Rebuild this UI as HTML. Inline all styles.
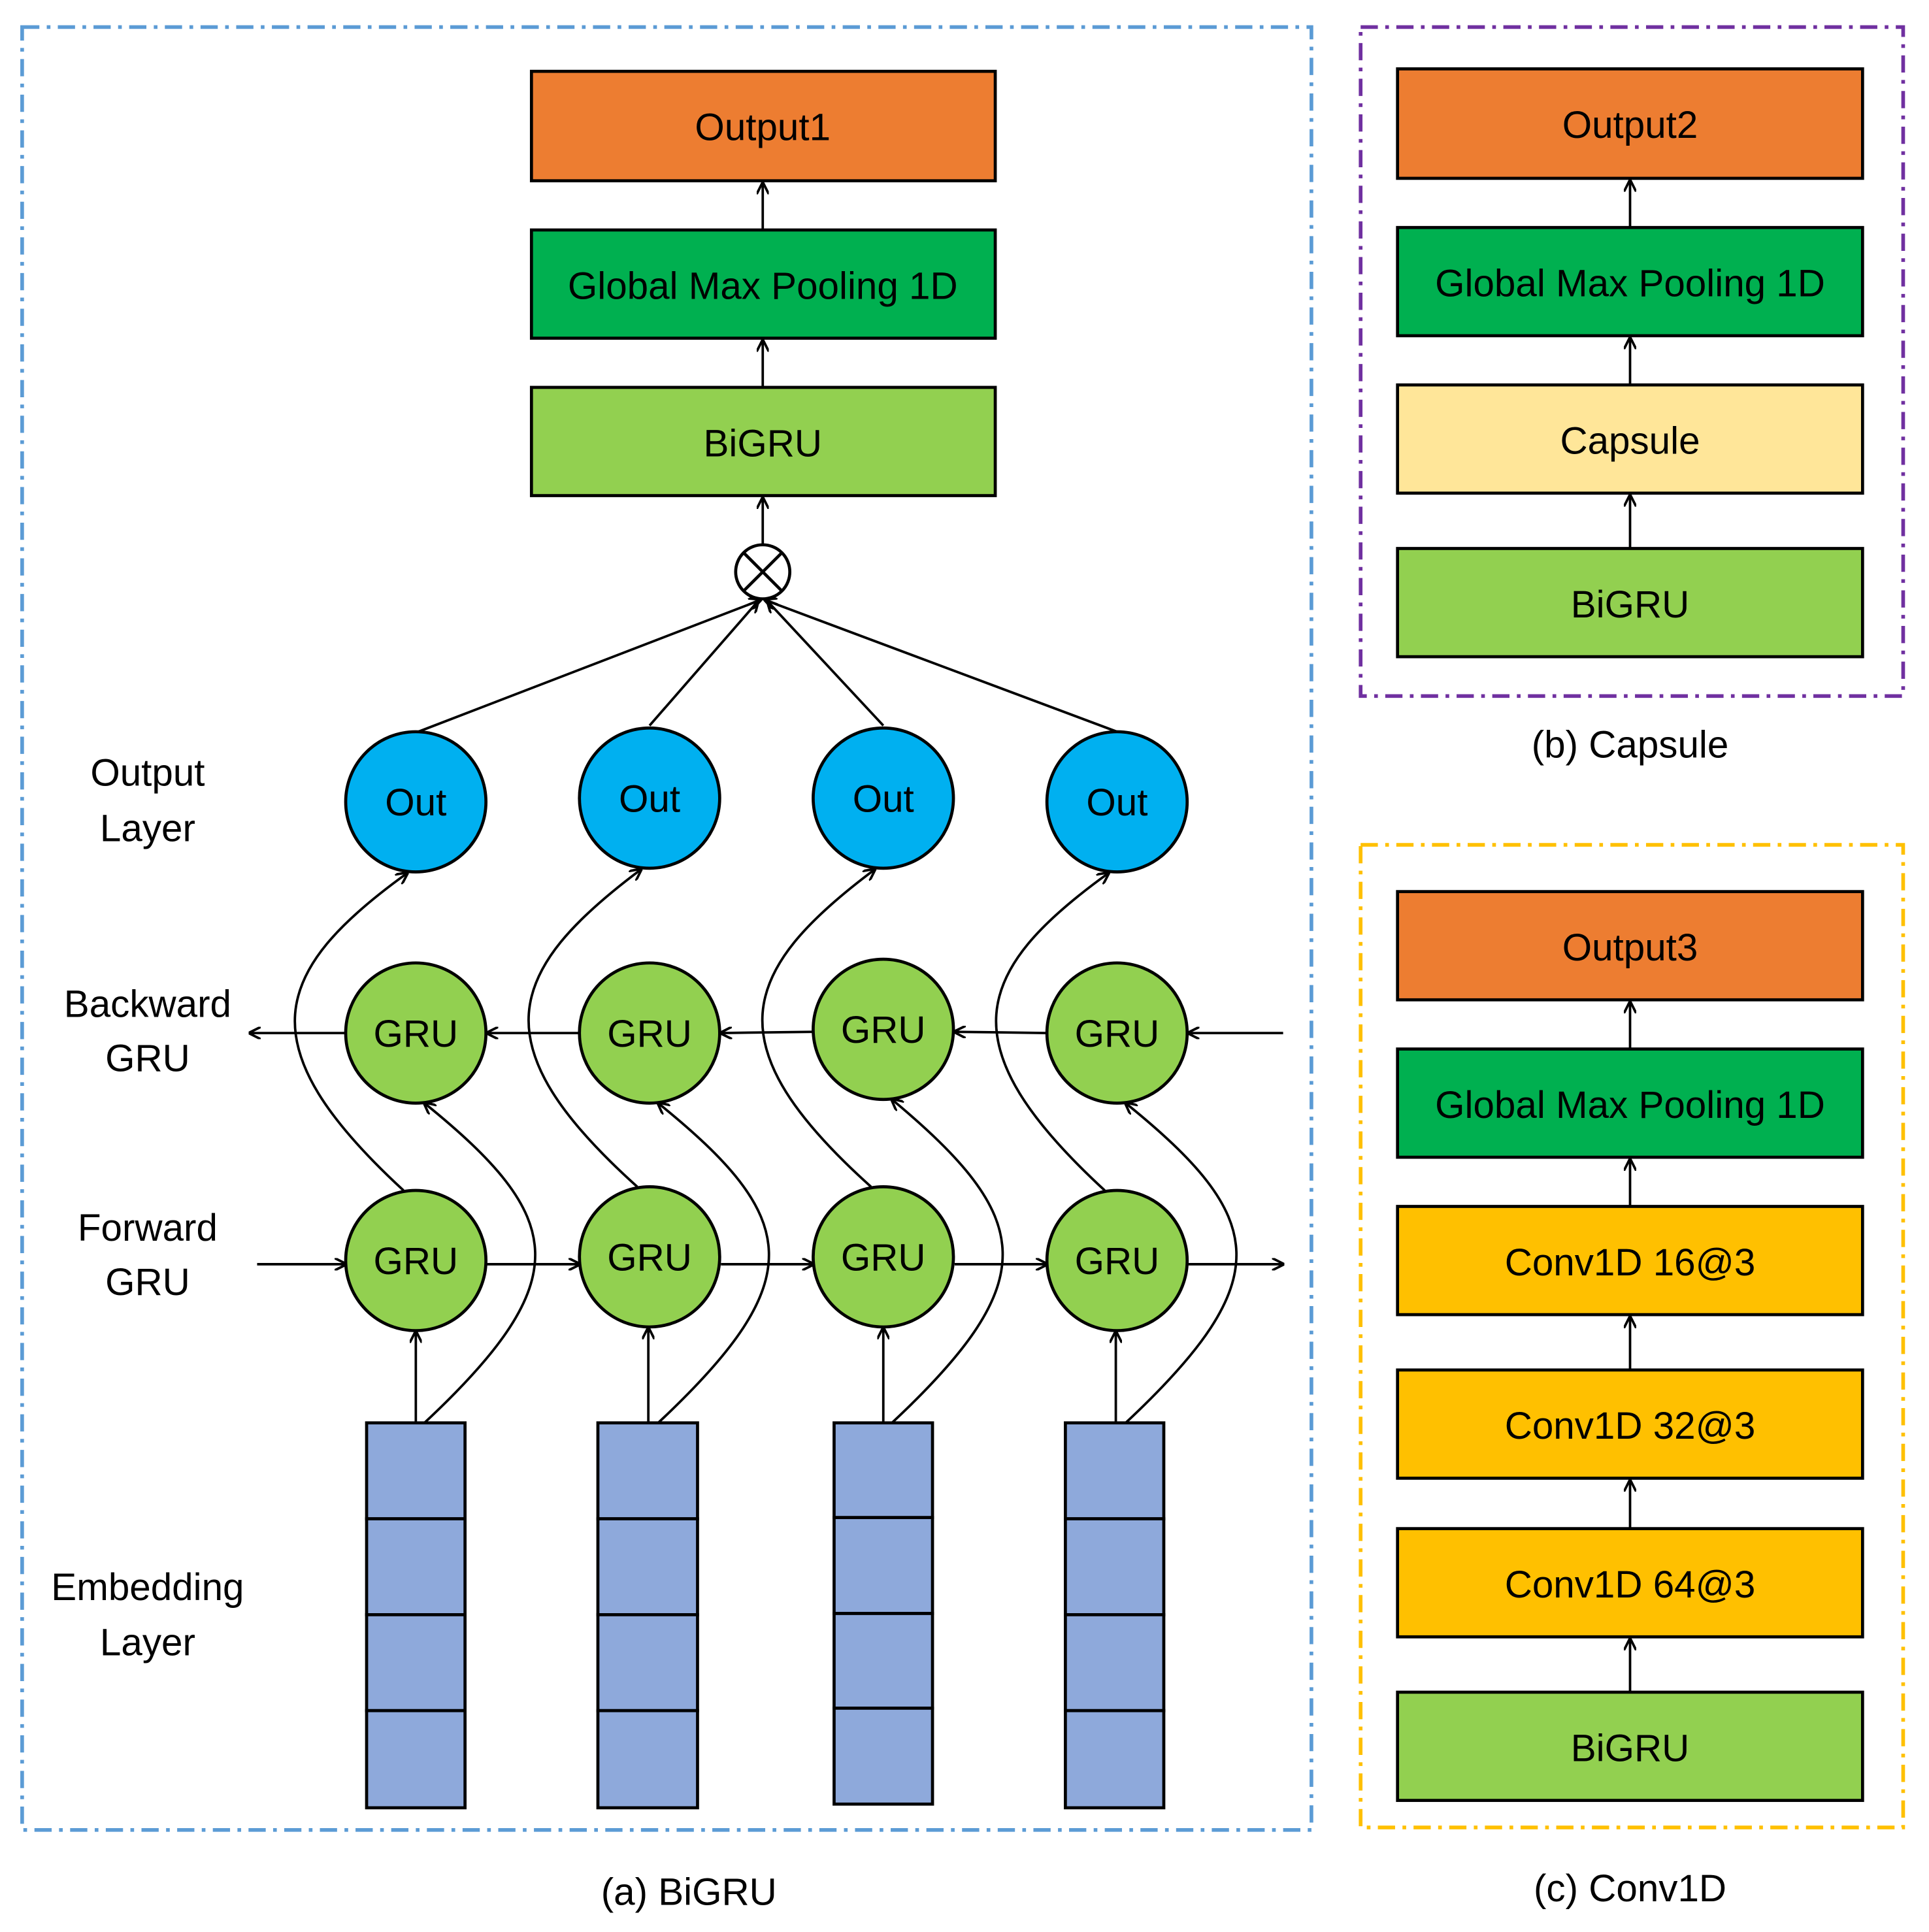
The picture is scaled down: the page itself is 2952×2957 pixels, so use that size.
<!DOCTYPE html>
<html><head><meta charset="utf-8"><style>html,body{margin:0;padding:0;background:#fff}svg{display:block}</style></head>
<body>
<svg width="2952" height="2957" viewBox="0 0 1568 1571" preserveAspectRatio="none" xmlns="http://www.w3.org/2000/svg" font-family="Liberation Sans, sans-serif">
<defs>
<marker id="a" markerWidth="10" markerHeight="10" refX="9" refY="5" orient="auto" markerUnits="userSpaceOnUse"><path d="M0,0 L10,5 L0,10" fill="none" stroke="#000" stroke-width="2"/></marker>
</defs>
<g fill="none" stroke-width="3" stroke-dasharray="14,6,3,6">
<rect x="18" y="22" width="1048" height="1466" stroke="#5B9BD5"/>
<rect x="1106" y="22" width="441" height="544" stroke="#7030A0"/>
<rect x="1106" y="687" width="441" height="799" stroke="#FFC000"/>
</g>
<g stroke="#000" stroke-width="2.5" font-size="31" text-anchor="middle">
<rect x="432" y="58" width="377" height="89" fill="#ED7D31"/>
<rect x="432" y="187" width="377" height="88" fill="#00B050"/>
<rect x="432" y="315" width="377" height="88" fill="#92D050"/>
<rect x="1136" y="56" width="378" height="89" fill="#ED7D31"/>
<rect x="1136" y="185" width="378" height="88" fill="#00B050"/>
<rect x="1136" y="313" width="378" height="88" fill="#FFE699"/>
<rect x="1136" y="446" width="378" height="88" fill="#92D050"/>
<rect x="1136" y="725" width="378" height="88" fill="#ED7D31"/>
<rect x="1136" y="853" width="378" height="88" fill="#00B050"/>
<rect x="1136" y="981" width="378" height="88" fill="#FFC000"/>
<rect x="1136" y="1114" width="378" height="88" fill="#FFC000"/>
<rect x="1136" y="1243" width="378" height="88" fill="#FFC000"/>
<rect x="1136" y="1376" width="378" height="88" fill="#92D050"/>
</g>
<g stroke="#000" stroke-width="2" marker-end="url(#a)">
<line x1="620" y1="187" x2="620" y2="149"/><line x1="620" y1="315" x2="620" y2="277"/><line x1="620" y1="443" x2="620" y2="405"/>
<line x1="1325" y1="185" x2="1325" y2="147"/><line x1="1325" y1="313" x2="1325" y2="275"/><line x1="1325" y1="446" x2="1325" y2="403"/>
<line x1="1325" y1="853" x2="1325" y2="815"/><line x1="1325" y1="981" x2="1325" y2="943"/><line x1="1325" y1="1114" x2="1325" y2="1071"/><line x1="1325" y1="1243" x2="1325" y2="1204"/><line x1="1325" y1="1376" x2="1325" y2="1333"/>
<line x1="340" y1="595" x2="618" y2="488"/><line x1="528" y1="590" x2="616" y2="489"/><line x1="718" y1="590" x2="624" y2="489"/><line x1="908" y1="595" x2="622" y2="488"/>
<line x1="281" y1="840" x2="203" y2="840"/><line x1="471" y1="840" x2="396" y2="840"/><line x1="661" y1="839" x2="586" y2="840"/><line x1="851" y1="840" x2="776" y2="839"/><line x1="1043" y1="840" x2="966" y2="840"/>
<line x1="209" y1="1028" x2="281" y2="1028"/><line x1="396" y1="1028" x2="471" y2="1028"/><line x1="586" y1="1028" x2="661" y2="1028"/><line x1="776" y1="1028" x2="851" y2="1028"/><line x1="966" y1="1028" x2="1043" y2="1028"/>
<line x1="338" y1="1157" x2="338" y2="1083"/><line x1="527" y1="1157" x2="527" y2="1080"/><line x1="718" y1="1157" x2="718" y2="1080"/><line x1="907" y1="1157" x2="907" y2="1083"/>
</g>
<g fill="none" stroke="#000" stroke-width="2" marker-end="url(#a)">
<path d="M328,968 C200,850 220,790 331,710"/>
<path d="M518,965 C390,850 410,790 521,707"/>
<path d="M708,965 C580,850 600,790 711,707"/>
<path d="M898,968 C770,850 790,790 901,710"/>
<path d="M345,1157 C470,1040 460,990 345,897"/>
<path d="M535,1157 C660,1040 650,990 535,897"/>
<path d="M725,1157 C850,1040 840,990 725,894"/>
<path d="M915,1157 C1040,1040 1030,990 915,897"/>
</g>
<g stroke="#000" stroke-width="2.5">
<circle cx="338" cy="652" r="57" fill="#00B0F0"/><circle cx="528" cy="649" r="57" fill="#00B0F0"/><circle cx="718" cy="649" r="57" fill="#00B0F0"/><circle cx="908" cy="652" r="57" fill="#00B0F0"/>
<circle cx="338" cy="840" r="57" fill="#92D050"/><circle cx="528" cy="840" r="57" fill="#92D050"/><circle cx="718" cy="837" r="57" fill="#92D050"/><circle cx="908" cy="840" r="57" fill="#92D050"/>
<circle cx="338" cy="1025" r="57" fill="#92D050"/><circle cx="528" cy="1022" r="57" fill="#92D050"/><circle cx="718" cy="1022" r="57" fill="#92D050"/><circle cx="908" cy="1025" r="57" fill="#92D050"/>
<circle cx="620" cy="465" r="22" fill="#fff"/>
<line x1="604" y1="449" x2="636" y2="481"/><line x1="636" y1="449" x2="604" y2="481"/>
<g fill="#8EA9DB">
<rect x="298" y="1157" width="80" height="78"/><rect x="298" y="1235" width="80" height="78"/><rect x="298" y="1313" width="80" height="78"/><rect x="298" y="1391" width="80" height="79"/>
<rect x="486" y="1157" width="81" height="78"/><rect x="486" y="1235" width="81" height="78"/><rect x="486" y="1313" width="81" height="78"/><rect x="486" y="1391" width="81" height="79"/>
<rect x="678" y="1157" width="80" height="77"/><rect x="678" y="1234" width="80" height="78"/><rect x="678" y="1312" width="80" height="77"/><rect x="678" y="1389" width="80" height="78"/>
<rect x="866" y="1157" width="80" height="78"/><rect x="866" y="1235" width="80" height="78"/><rect x="866" y="1313" width="80" height="78"/><rect x="866" y="1391" width="80" height="79"/>
</g>
</g>
<g font-size="31" text-anchor="middle" fill="#000">
<text x="620" y="114">Output1</text><text x="620" y="243">Global Max Pooling 1D</text><text x="620" y="371">BiGRU</text>
<text x="1325" y="112">Output2</text><text x="1325" y="241">Global Max Pooling 1D</text><text x="1325" y="369">Capsule</text><text x="1325" y="502">BiGRU</text>
<text x="1325" y="781">Output3</text><text x="1325" y="909">Global Max Pooling 1D</text><text x="1325" y="1037">Conv1D 16@3</text><text x="1325" y="1170">Conv1D 32@3</text><text x="1325" y="1299">Conv1D 64@3</text><text x="1325" y="1432">BiGRU</text>
<text x="338" y="663">Out</text><text x="528" y="660">Out</text><text x="718" y="660">Out</text><text x="908" y="663">Out</text>
<text x="338" y="851">GRU</text><text x="528" y="851">GRU</text><text x="718" y="848">GRU</text><text x="908" y="851">GRU</text>
<text x="338" y="1036">GRU</text><text x="528" y="1033">GRU</text><text x="718" y="1033">GRU</text><text x="908" y="1036">GRU</text>
<text x="120" y="639">Output</text><text x="120" y="684">Layer</text>
<text x="120" y="827">Backward</text><text x="120" y="871">GRU</text>
<text x="120" y="1009">Forward</text><text x="120" y="1053">GRU</text>
<text x="120" y="1301">Embedding</text><text x="120" y="1346">Layer</text>
<text x="560" y="1549">(a) BiGRU</text><text x="1325" y="616">(b) Capsule</text><text x="1325" y="1546">(c) Conv1D</text>
</g>
</svg>
</body></html>
